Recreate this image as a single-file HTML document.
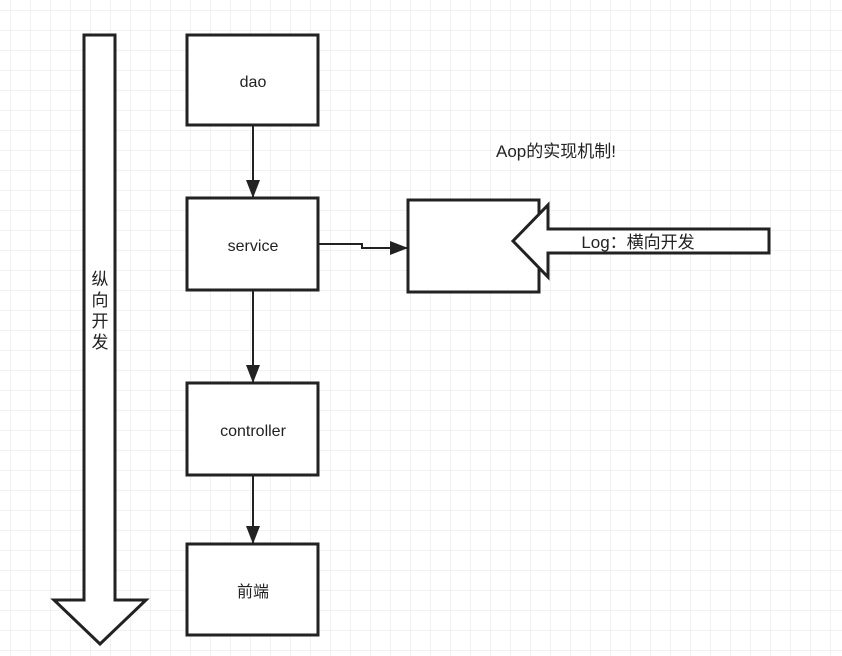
<!DOCTYPE html>
<html><head><meta charset="utf-8"><style>
html,body{margin:0;padding:0;background:#fff}
body{width:842px;height:656px;overflow:hidden;
background-image:linear-gradient(#f1f1f1 1px,transparent 1px),linear-gradient(90deg,#f1f1f1 1px,transparent 1px);
background-size:20px 20px;background-position:0 10px,10px 0}
</style></head><body>
<svg width="842" height="656" xmlns="http://www.w3.org/2000/svg" style="position:absolute;left:0;top:0" font-family="Liberation Sans, Noto Sans CJK SC, sans-serif">
<defs><marker id="a" markerWidth="18" markerHeight="14" refX="17" refY="7" orient="auto" markerUnits="userSpaceOnUse"><path d="M0,0 L18,7 L0,14 Z" fill="#222"/></marker></defs>
<g stroke="#222" stroke-width="3" fill="#fff">
<path d="M84,35 H115 V600 H146 L100,644 L54,600 H84 Z"/>
<rect x="187" y="35" width="131" height="90"/>
<rect x="187" y="198" width="131" height="92"/>
<rect x="187" y="383" width="131" height="92"/>
<rect x="187" y="544" width="131" height="91"/>
<rect x="408" y="200" width="131" height="92"/>
<path d="M769,229 V253 H548 V277 L513,241 L548,205 V229 Z"/>
</g>
<g stroke="#222" stroke-width="2" fill="none">
<line x1="253" y1="125" x2="253" y2="197" marker-end="url(#a)"/>
<line x1="253" y1="290" x2="253" y2="382" marker-end="url(#a)"/>
<line x1="253" y1="475" x2="253" y2="543" marker-end="url(#a)"/>
<path d="M318,244 H362 V248 H407" marker-end="url(#a)"/>
</g>
<g font-size="16" fill="#222" text-anchor="middle">
<text x="253" y="87">dao</text>
<text x="253" y="251">service</text>
<text x="253" y="436">controller</text>
<text x="253" y="597">前端</text>
<text x="556" y="157" font-size="17">Aop的实现机制!</text>
<text x="638" y="248" font-size="17">Log：横向开发</text>
<text x="100" y="285" font-size="17">纵</text>
<text x="100" y="306" font-size="17">向</text>
<text x="100" y="327" font-size="17">开</text>
<text x="100" y="348" font-size="17">发</text>
</g>
</svg>
</body></html>
